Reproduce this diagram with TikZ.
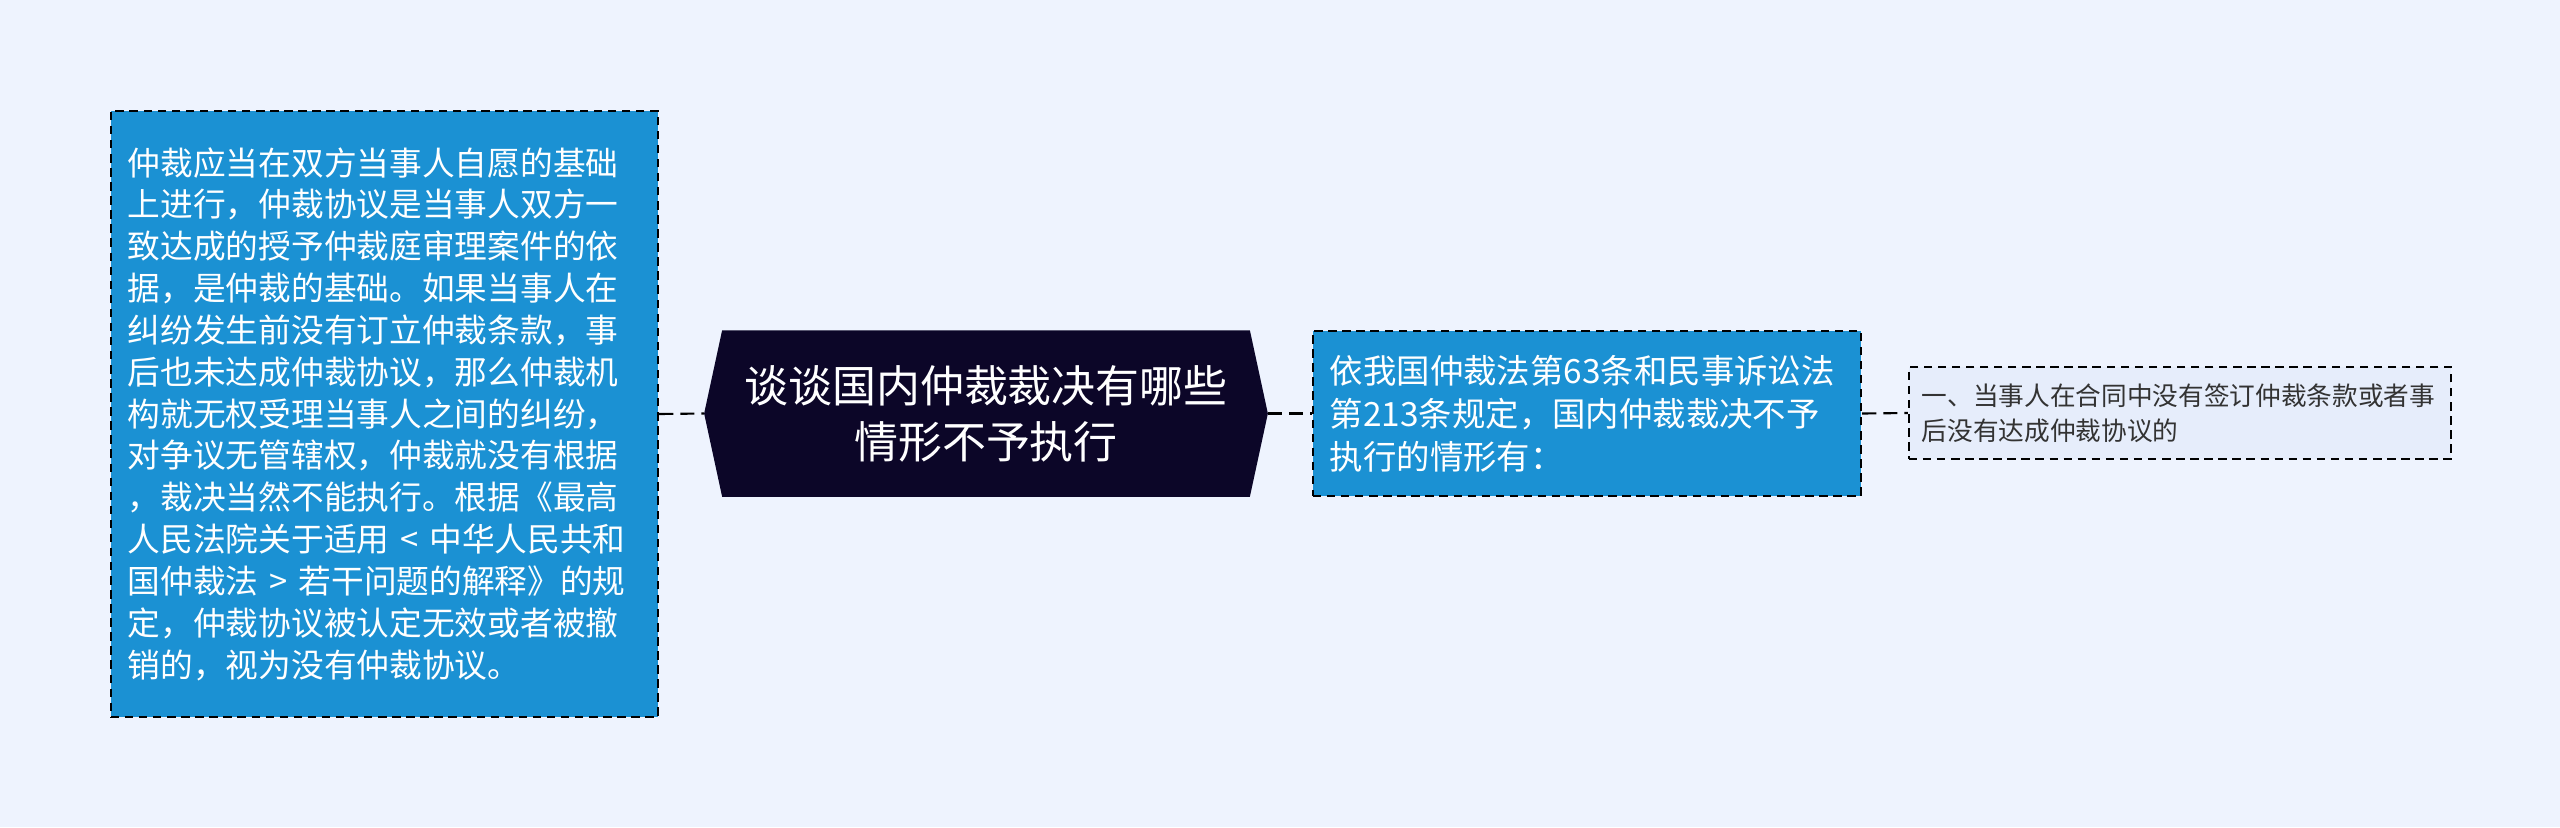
\documentclass[tikz,border=0pt]{standalone}
\usepackage{fontspec}
\setmainfont{Noto Sans CJK SC}
\usetikzlibrary{positioning,calc}
\pgfdeclarelayer{background}
\pgfsetlayers{background,main}
\definecolor{pagebg}{HTML}{EEF3FE}
\definecolor{boxblue}{HTML}{1B91D3}
\definecolor{hubnavy}{HTML}{0C0628}
\definecolor{leafbg}{HTML}{E6EDFB}
\definecolor{leaftext}{HTML}{333333}

\begin{document}
\begin{tikzpicture}[x=0.01cm,y=-0.01cm,
	dashline/.style={draw=black,line width=0.6pt,dash pattern=on 2.4pt off 1.6pt},
	bluebox/.style={dashline,fill=boxblue,text=white,align=left,inner xsep=0.17cm,inner ysep=0pt},
	leafbox/.style={dashline,fill=leafbg,text=leaftext,align=left,inner xsep=0.13cm,inner ysep=0pt},
	link/.style={draw=black,line width=0.6pt,dash pattern=on 4pt off 2pt}]
				%Page
				\begin{pgfonlayer}{background}
				\fill[pagebg] (0,0) rectangle (2560,827);
				\end{pgfonlayer}
				\useasboundingbox (0,0) rectangle (2560,827);

				%Nodes
				\node[bluebox,minimum width=5.47cm,minimum height=6.06cm,text width=5.13cm,
					font=\fontsize{9.3}{11.9}\selectfont] (basis) at (384.5,414) {仲裁应当在双方当事人自愿的基础\\上进行，仲裁协议是当事人双方一\\致达成的授予仲裁庭审理案件的依\\据，是仲裁的基础。如果当事人在\\纠纷发生前没有订立仲裁条款，事\\后也未达成仲裁协议，那么仲裁机\\构就无权受理当事人之间的纠纷，\\对争议无管辖权，仲裁就没有根据\\，裁决当然不能执行。根据《最高\\人民法院关于适用 < 中华人民共和\\国仲裁法 > 若干问题的解释》的规\\定，仲裁协议被认定无效或者被撤\\销的，视为没有仲裁协议。};
				\node[text=white,align=center,minimum width=5.62cm,minimum height=1.65cm,
					font=\fontsize{12.5}{15.9}\selectfont] (hub) at (986,413.5) {谈谈国内仲裁裁决有哪些\\情形不予执行};
				\node[bluebox,minimum width=5.48cm,minimum height=1.65cm,text width=5.14cm,
					font=\fontsize{9.5}{12.2}\selectfont] (law) at (1587,413.5) {依我国仲裁法第63条和民事诉讼法\\第213条规定，国内仲裁裁决不予\\执行的情形有：};
				\node[leafbox,minimum width=5.42cm,minimum height=0.92cm,text width=5.16cm,
					font=\fontsize{7.3}{9.9}\selectfont] (case1) at (2180,413) {一、当事人在合同中没有签订仲裁条款或者事\\后没有达成仲裁协议的};

				%Hub shape
				\begin{pgfonlayer}{background}
				\fill[hubnavy] ($(hub.north west)+(18,0)$) -- ($(hub.north east)+(-18,0)$) -- (hub.east)
					-- ($(hub.south east)+(-18,0)$) -- ($(hub.south west)+(18,0)$) -- (hub.west) -- cycle;
				\end{pgfonlayer}

				%Lines
				\draw[link] (basis.east) -- (hub.west);
				\draw[link] (hub.east) -- (law.west);
				\draw[link] (law.east) -- (case1.west);
\end{tikzpicture}
\end{document}
